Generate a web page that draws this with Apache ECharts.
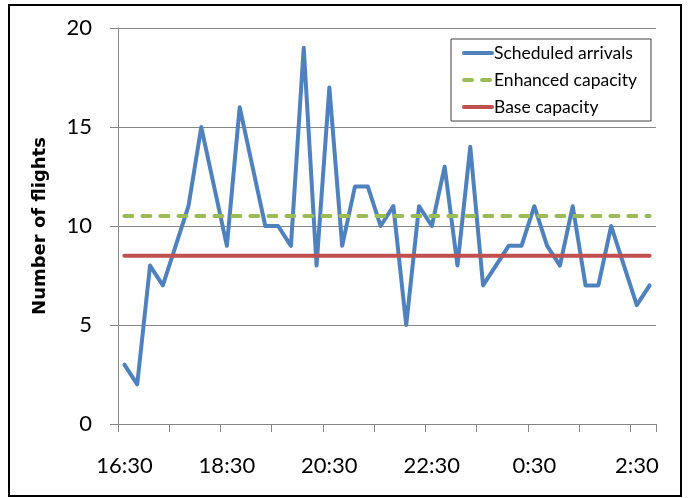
<!DOCTYPE html>
<html>
<head>
<meta charset="utf-8">
<script src="https://cdn.jsdelivr.net/npm/echarts@6/dist/echarts.min.js"></script>
<style>
    html, body { margin: 0; padding: 0; background: #fff; }
    #chart { width: 690px; height: 498px; }
</style>
</head>
<body>
<div id="chart"></div>
<script>
    // quarter-hour slots, 16:30 to 2:45
    var times = [
        '16:30', '16:45', '17:00', '17:15', '17:30', '17:45', '18:00', '18:15',
        '18:30', '18:45', '19:00', '19:15', '19:30', '19:45', '20:00', '20:15',
        '20:30', '20:45', '21:00', '21:15', '21:30', '21:45', '22:00', '22:15',
        '22:30', '22:45', '23:00', '23:15', '23:30', '23:45', '0:00', '0:15',
        '0:30', '0:45', '1:00', '1:15', '1:30', '1:45', '2:00', '2:15',
        '2:30', '2:45'
    ];
    var arrivals = [
        3, 2, 8, 7, 9, 11, 15, 12,
        9, 16, 13, 10, 10, 9, 19, 8,
        17, 9, 12, 12, 10, 11, 5, 11,
        10, 13, 8, 14, 7, 8, 9, 9,
        11, 9, 8, 11, 7, 7, 10, 8,
        6, 7
    ];
    var enhancedCapacity = 10.5;
    var baseCapacity = 8.5;
    var yTicks = [0, 5, 10, 15, 20];

    var font = 'Lato, "Liberation Sans", sans-serif';
    var gray = '#868686';

    var chart = echarts.init(document.getElementById('chart'), null, {renderer: 'canvas'});
    var option = {
        backgroundColor: '#fff',
        animation: false,
        grid: {
            left: 118,
            right: 34,
            top: 28,
            bottom: 74
        },
        legend: {
            orient: 'vertical',
            left: 451,
            top: 39,
            padding: [4, 14, 4, 11],
            borderColor: '#404040',
            borderWidth: 1,
            itemWidth: 28,
            itemHeight: 14,
            itemGap: 7,
            itemStyle: {opacity: 0},
            lineStyle: {width: 4},
            textStyle: {
                fontFamily: font,
                fontSize: 17.5,
                color: '#000',
                lineHeight: 20,
                padding: [0, 0, 0, -3]
            },
            data: ['Scheduled arrivals', 'Enhanced capacity', 'Base capacity']
        },
        xAxis: {
            type: 'category',
            data: times,
            boundaryGap: true,
            axisLine: {lineStyle: {color: gray, width: 1}},
            axisTick: {
                show: true,
                interval: 3,
                length: 8,
                lineStyle: {color: gray}
            },
            axisLabel: {
                interval: 7,
                margin: 31,
                fontFamily: font,
                fontSize: 22,
                color: '#000'
            },
            splitLine: {show: false}
        },
        yAxis: {
            type: 'value',
            min: yTicks[0],
            max: yTicks[yTicks.length - 1],
            interval: 5,
            name: 'Number of flights',
            nameLocation: 'middle',
            nameGap: 69,
            nameTextStyle: {
                fontFamily: '"DejaVu Sans", sans-serif',
                fontSize: 18,
                fontWeight: 'bold',
                color: '#000'
            },
            axisLine: {show: true, lineStyle: {color: gray, width: 1}},
            axisTick: {show: true, length: 8, lineStyle: {color: gray}},
            axisLabel: {
                margin: 26,
                fontFamily: font,
                fontSize: 22,
                color: '#000'
            },
            splitLine: {lineStyle: {color: gray, width: 1}}
        },
        series: [
            {
                name: 'Scheduled arrivals',
                type: 'line',
                data: arrivals,
                symbol: 'none',
                color: '#4F81BD',
                lineStyle: {width: 4, color: '#4F81BD', join: 'round', cap: 'round'}
            },
            {
                name: 'Enhanced capacity',
                type: 'line',
                data: [[times[0], enhancedCapacity], [times[times.length - 1], enhancedCapacity]],
                symbol: 'none',
                color: '#9BBB59',
                lineStyle: {width: 4, color: '#9BBB59', type: [8, 10], cap: 'round'}
            },
            {
                name: 'Base capacity',
                type: 'line',
                data: [[times[0], baseCapacity], [times[times.length - 1], baseCapacity]],
                symbol: 'none',
                color: '#C0504D',
                lineStyle: {width: 4, color: '#C0504D', cap: 'round'}
            }
        ],
        graphic: [
            {
                type: 'rect',
                shape: {x: 9, y: 5, width: 672, height: 491},
                style: {fill: 'none', stroke: '#000', lineWidth: 2},
                silent: true
            }
        ]
    };
    chart.setOption(option);
</script>
</body>
</html>
